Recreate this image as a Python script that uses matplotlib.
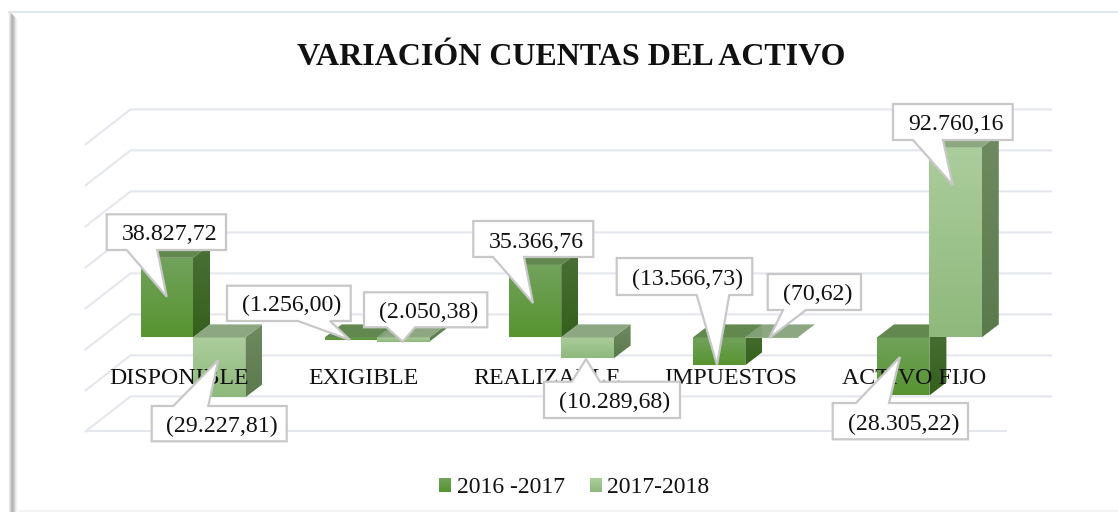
import matplotlib
matplotlib.use('Agg')
import matplotlib.pyplot as plt
import numpy as np
from matplotlib.colors import LinearSegmentedColormap
from matplotlib.patches import Polygon
from matplotlib.transforms import Affine2D

categories = ['DISPONIBLE', 'EXIGIBLE', 'REALIZABLE', 'IMPUESTOS', 'ACTIVO FIJO']
series_names = ['2016 -2017', '2017-2018']
values_2017 = [38827.72, -1256.00, 35366.76, -13566.73, -28305.22]
values_2018 = [-29227.81, -2050.38, -10289.68, -70.62, 92760.16]
grid_values = [-40000, -20000, 0, 20000, 40000, 60000, 80000, 100000]
title = 'VARIACIÓN CUENTAS DEL ACTIVO'

W, H = 1118, 512
CAT_PX = 184.1      # pixels per category
X0_PX = 193.0       # category 0 centre
Y0_PX = 337.4       # value 0 on the bar front
VAL_PX = 0.00205    # pixels per unit
BAR_W = 52.4 / CAT_PX
DX, DY = 17 / CAT_PX, 13 / VAL_PX
BACK_DX, BACK_DY = 29.6 / CAT_PX, 23 / VAL_PX
FRONT_DX, FRONT_DY = 15.4 / CAT_PX, 12 / VAL_PX

# front top, front bottom, side top, side bottom, top face
colors_a = ['#72a25c', '#579430', '#4a7036', '#35601c', '#5a8245']
colors_b = ['#abcd9c', '#8fb97c', '#6f8a60', '#5a7a4c', '#86a27a']

# box (x0, y0, x1, y1), pointer base (x0, x1), pointer tip (x, y), in image pixels
callouts_a = [
    ((106.7, 214.3, 226, 250), (126.7, 157.3), (166.7, 296.7)),
    ((227, 285.7, 350.7, 321), (298, 330), (350, 340)),
    ((473.3, 221, 593.3, 257), (493, 524), (533, 303)),
    ((616.7, 258, 752.3, 295), (696.7, 729.3), (717, 365)),
    ((832.7, 403, 968, 439.3), (856, 889), (900, 357)),
]
callouts_b = [
    ((151.7, 406, 286.7, 441.3), (173.3, 208.3), (218.3, 360)),
    ((364, 292.3, 487.3, 327.3), (386.7, 415), (402.7, 341.7)),
    ((544, 381.7, 680, 418), (571.7, 600), (586, 359)),
    ((767.7, 274, 861, 310), (783, 806), (769.3, 338)),
    ((893, 104, 1012.7, 140), (913, 943), (952.7, 185)),
]

plt.rcParams['font.family'] = ['Liberation Serif', 'DejaVu Serif']

fig = plt.figure(figsize=(W / 100, H / 100), dpi=100)
ax = fig.add_axes([0, 0, 1, 1])
ax.axis('off')
px = Affine2D().scale(1, -1).translate(0, H)


def fmt_value(v):
    s = f'{abs(v):,.2f}'.replace(',', 'X').replace('.', ',').replace('X', '.')
    return f'({s})' if v < 0 else s


def gradient_face(corners, top, bottom, zorder):
    # vertical gradient clipped to the polygon of the face
    cmap = LinearSegmentedColormap.from_list('face', [top, bottom])
    xs, ys = zip(*corners)
    im = ax.imshow(np.linspace(0, 1, 64).reshape(-1, 1), cmap=cmap, aspect='auto', origin='upper',
                   extent=(min(xs), max(xs), min(ys), max(ys)), zorder=zorder)
    im.set_clip_path(Polygon(corners, closed=True, transform=ax.transData))


def draw_bar(x, v, colors, zorder):
    lo, hi = min(v, 0), max(v, 0)
    left, right = x, x + BAR_W
    gradient_face([(left, lo), (right, lo), (right, hi), (left, hi)], colors[0], colors[1], zorder)
    gradient_face([(right, lo), (right + DX, lo + DY), (right + DX, hi + DY), (right, hi)],
                  colors[2], colors[3], zorder)
    ax.add_patch(Polygon([(left, hi), (right, hi), (right + DX, hi + DY), (left + DX, hi + DY)],
                         closed=True, fc=colors[4], ec='none', alpha=0.95, zorder=zorder + 0.1))


def draw_callout(text, box, base, tip):
    x0, y0, x1, y1 = box
    if tip[1] > y1:
        pts = [(x0, y0), (x1, y0), (x1, y1), (base[1], y1), tip, (base[0], y1), (x0, y1)]
    else:
        pts = [(x0, y0), (base[0], y0), tip, (base[1], y0), (x1, y0), (x1, y1), (x0, y1)]
    ax.add_patch(Polygon(pts, closed=True, fc='white', ec='#c8c8c8', lw=1.6, transform=px, zorder=50))
    ax.text((x0 + x1) / 2 + 3, y1 - 9.5, text, transform=px, fontsize=17.2, ha='center', va='baseline',
            color='#111111', zorder=51)


# frame
for x, c in zip(range(8, 17), ['#e2e6ec', '#d6d8dc', '#bcbcbc', '#b4b4b4', '#bebebe', '#d0d0d0', '#e4e4e4',
                               '#f2f2f2', '#fafafa']):
    ax.plot([x + 0.5, x + 0.5], [11 + x - 8, H], color=c, lw=0.75, transform=px, solid_capstyle='butt')
ax.plot([8, W], [12, 12], color='#e3e6ec', lw=1.6, transform=px, solid_capstyle='butt')
ax.plot([19, W], [511, 511], color='#f0f0f0', lw=1.2, transform=px, solid_capstyle='butt')

# back wall lines with the left floor diagonals
line_color = '#e4e7ee'
for g in grid_values:
    ax.plot([-0.5 - FRONT_DX, -0.5 + BACK_DX, 4.5 + BACK_DX], [g - FRONT_DY, g + BACK_DY, g + BACK_DY],
            color=line_color, lw=1.5, zorder=1)
ax.plot([-0.5 - FRONT_DX, 4.5 - FRONT_DX], [grid_values[0] - FRONT_DY] * 2, color=line_color, lw=1.5, zorder=1)

# bars, back to front, left to right
z = 2
for i in range(len(categories)):
    draw_bar(i - BAR_W, values_2017[i], colors_a, z)
    draw_bar(i, values_2018[i], colors_b, z + 1)
    z += 2

# category labels sit in front of the bars
for i, name in enumerate(categories):
    ax.text(179.5 + 183.7 * i, 384, name, transform=px, fontsize=17.2, ha='center', va='baseline',
            color='#111111', zorder=40)

for i in range(len(categories)):
    draw_callout(fmt_value(values_2017[i]), *callouts_a[i])
    draw_callout(fmt_value(values_2018[i]), *callouts_b[i])

ax.text(571.5, 65, title, transform=px, fontsize=23, fontweight='bold', ha='center', va='baseline',
        color='#111111', zorder=60)

# legend
legend_x = [439.3, 590.0]
for lx, name, colors in zip(legend_x, series_names, [colors_a, colors_b]):
    cmap = LinearSegmentedColormap.from_list('leg', [colors[0], colors[1]])
    ax.imshow(np.linspace(0, 1, 16).reshape(-1, 1), cmap=cmap, aspect='auto', origin='upper',
              extent=(lx, lx + 12, 492, 478), transform=px, zorder=60)
    ax.text(lx + 17.5, 493, name, transform=px, fontsize=17, ha='left', va='baseline', color='#111111', zorder=60)

ax.set_xlim(-X0_PX / CAT_PX, (W - X0_PX) / CAT_PX)
ax.set_ylim((Y0_PX - H) / VAL_PX, Y0_PX / VAL_PX)

fig.savefig('out.png', dpi=100, facecolor='white')
